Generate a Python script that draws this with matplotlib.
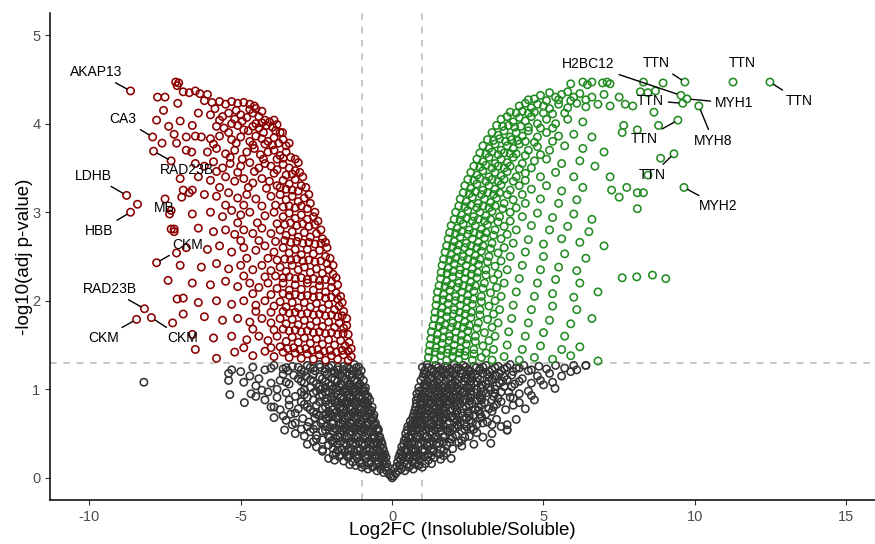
import numpy as np
import matplotlib.pyplot as plt

plt.rcParams['font.family'] = ['Liberation Sans', 'DejaVu Sans']
plt.rcParams['axes.unicode_minus'] = False

# (log2FC, -log10 adj p)
# significant, lower in insoluble fraction
down_pts = [
    (-7.15, 4.47), (-7.1, 4.43), (-7.05, 4.46),
    (-6.9, 4.36), (-6.7, 4.35), (-6.5, 4.37), (-6.35, 4.34), (-6.1, 4.33), (-7.5, 4.30),
    (-6.2, 4.26), (-5.95, 4.24), (-5.7, 4.25), (-5.5, 4.22), (-5.3, 4.25), (-5.1, 4.23),
    (-4.9, 4.24), (-4.7, 4.22), (-4.55, 4.2), (-7.55, 4.15),
    (-5.85, 4.17), (-5.15, 4.15), (-4.7, 4.16), (-4.3, 4.14), (-4.5, 4.17),
    (-6.4, 4.12), (-6.0, 4.1), (-5.6, 4.08), (-5.4, 4.12), (-5.2, 4.05), (-5.0, 4.1),
    (-4.8, 4.07), (-4.6, 4.12), (-4.4, 4.08), (-4.2, 4.04), (-4.05, 4.02), (-5.3, 4.0),
    (-5.7, 4.04), (-4.95, 4.03), (-4.5, 4.0), (-4.3, 4.01), (-3.9, 4.04),
    (-6.6, 3.98), (-5.8, 3.97), (-5.55, 3.95), (-5.1, 3.98), (-4.9, 3.93), (-4.6, 3.97),
    (-4.4, 3.95), (-4.15, 3.98), (-3.95, 3.96), (-3.8, 3.99), (-3.7, 3.9), (-7.0, 4.03),
    (-7.2, 3.88),
    (-5.4, 3.9), (-4.75, 3.92), (-4.25, 3.9), (-3.85, 3.92), (-3.62, 3.9),
    (-6.3, 3.85), (-6.0, 3.83), (-5.7, 3.86), (-5.3, 3.82), (-5.0, 3.85), (-4.7, 3.8),
    (-4.5, 3.86), (-4.3, 3.83), (-4.1, 3.8), (-3.9, 3.84), (-3.75, 3.78), (-3.6, 3.82),
    (-3.5, 3.75), (-7.6, 3.78),
    (-5.9, 3.77), (-5.15, 3.78), (-4.6, 3.76), (-4.2, 3.77), (-3.95, 3.76), (-3.4, 3.78),
    (-6.8, 3.7), (-6.1, 3.68), (-5.8, 3.72), (-5.5, 3.66), (-5.2, 3.7), (-4.8, 3.68),
    (-4.55, 3.72), (-4.35, 3.65), (-4.1, 3.68), (-3.9, 3.7), (-3.7, 3.64), (-3.5, 3.68),
    (-3.35, 3.62), (-3.2, 3.6),
    (-5.35, 3.62), (-4.95, 3.6), (-4.25, 3.6), (-3.8, 3.6), (-3.6, 3.61), (-3.1, 3.56),
    (-7.3, 3.58), (-6.5, 3.55), (-6.2, 3.52), (-5.9, 3.57), (-5.6, 3.5), (-5.35, 3.55),
    (-5.0, 3.52), (-4.7, 3.56), (-4.4, 3.5), (-4.2, 3.55), (-4.0, 3.52), (-3.8, 3.48),
    (-3.6, 3.54), (-3.4, 3.5), (-3.2, 3.47), (-3.05, 3.45),
    (-5.8, 3.46), (-5.1, 3.45), (-4.55, 3.46), (-3.9, 3.44), (-3.5, 3.42), (-3.3, 3.43),
    (-2.95, 3.4),
    (-7.0, 3.38), (-6.4, 3.4), (-6.0, 3.36), (-5.5, 3.4), (-5.2, 3.35), (-4.9, 3.38),
    (-4.6, 3.33), (-4.3, 3.38), (-4.05, 3.35), (-3.8, 3.3), (-3.6, 3.36), (-3.4, 3.32),
    (-3.2, 3.37), (-3.0, 3.3), (-2.85, 3.28),
    (-5.7, 3.28), (-4.75, 3.28), (-4.15, 3.27), (-3.7, 3.28), (-3.5, 3.26), (-3.3, 3.25),
    (-3.1, 3.24), (-2.75, 3.2),
    (-6.7, 3.22), (-6.2, 3.2), (-5.8, 3.18), (-5.4, 3.22), (-5.1, 3.16), (-4.8, 3.2),
    (-4.5, 3.15), (-4.0, 3.18), (-3.7, 3.2), (-3.5, 3.14), (-3.3, 3.18), (-3.1, 3.12),
    (-2.9, 3.16), (-2.7, 3.1), (-7.5, 3.15),
    (-5.5, 3.08), (-4.9, 3.08), (-4.3, 3.07), (-3.85, 3.08), (-3.6, 3.06), (-3.4, 3.07),
    (-3.2, 3.05), (-3.0, 3.07), (-2.8, 3.04), (-2.55, 3.0),
    (-7.3, 3.02), (-6.6, 2.98), (-6.0, 3.0), (-5.6, 2.95), (-5.3, 3.02), (-5.0, 2.97),
    (-4.7, 3.0), (-4.2, 2.96), (-3.9, 3.0), (-3.6, 2.95), (-3.4, 2.99), (-3.2, 2.93),
    (-3.0, 2.97), (-2.8, 2.92), (-2.6, 2.95), (-2.45, 2.9),
    (-5.1, 2.88), (-4.45, 2.88), (-3.8, 2.87), (-3.55, 2.86), (-3.35, 2.88), (-3.15, 2.85),
    (-2.95, 2.87), (-2.75, 2.84), (-2.55, 2.86), (-2.35, 2.8),
    (-7.2, 2.78), (-6.4, 2.82), (-5.9, 2.78), (-5.5, 2.8), (-5.2, 2.75), (-4.9, 2.8),
    (-4.6, 2.76), (-4.3, 2.82), (-4.0, 2.76), (-3.7, 2.8), (-3.5, 2.74), (-3.3, 2.78),
    (-3.1, 2.72), (-2.9, 2.77), (-2.7, 2.72), (-2.5, 2.76), (-2.3, 2.7), (-2.2, 2.66),
    (-5.0, 2.68), (-4.4, 2.68), (-3.85, 2.67), (-3.55, 2.68), (-3.35, 2.66), (-3.15, 2.67),
    (-2.95, 2.65), (-2.75, 2.66), (-2.55, 2.64), (-2.35, 2.65), (-2.15, 2.6),
    (-6.8, 2.6), (-6.1, 2.58), (-5.7, 2.62), (-5.3, 2.55), (-4.9, 2.6), (-4.5, 2.57),
    (-4.2, 2.62), (-3.9, 2.55), (-3.6, 2.6), (-3.4, 2.54), (-3.2, 2.58), (-3.0, 2.52),
    (-2.8, 2.58), (-2.6, 2.53), (-2.4, 2.57), (-2.2, 2.5), (-2.05, 2.48),
    (-4.8, 2.48), (-4.1, 2.48), (-3.8, 2.46), (-3.55, 2.47), (-3.35, 2.46), (-3.15, 2.47),
    (-2.95, 2.45), (-2.75, 2.46), (-2.55, 2.44), (-2.35, 2.45), (-2.15, 2.42), (-1.95, 2.4),
    (-7.0, 2.4), (-6.3, 2.38), (-5.8, 2.42), (-5.4, 2.36), (-5.0, 2.4), (-4.6, 2.35),
    (-4.3, 2.4), (-4.0, 2.34), (-3.7, 2.38), (-3.5, 2.33), (-3.3, 2.4), (-3.1, 2.35),
    (-2.9, 2.38), (-2.7, 2.32), (-2.5, 2.36), (-2.3, 2.31), (-2.1, 2.35), (-1.95, 2.3),
    (-1.85, 2.26),
    (-4.9, 2.28), (-4.2, 2.27), (-3.85, 2.28), (-3.6, 2.26), (-3.4, 2.27), (-3.2, 2.25),
    (-3.0, 2.26), (-2.8, 2.24), (-2.6, 2.25), (-2.4, 2.23), (-2.2, 2.24), (-2.0, 2.22),
    (-1.8, 2.18),
    (-6.6, 2.2), (-6.0, 2.18), (-5.5, 2.22), (-5.1, 2.16), (-4.7, 2.2), (-4.4, 2.15),
    (-4.1, 2.2), (-3.8, 2.14), (-3.6, 2.2), (-3.4, 2.12), (-3.2, 2.18), (-3.0, 2.13),
    (-2.8, 2.2), (-2.6, 2.12), (-2.4, 2.17), (-2.2, 2.1), (-2.0, 2.15), (-1.85, 2.09),
    (-1.7, 2.05),
    (-4.6, 2.08), (-4.0, 2.07), (-3.6, 2.08), (-3.4, 2.06), (-3.2, 2.07), (-3.0, 2.05),
    (-2.8, 2.06), (-2.6, 2.04), (-2.4, 2.05), (-2.2, 2.03), (-2.0, 2.04), (-1.8, 2.02),
    (-1.65, 1.98),
    (-7.1, 2.02), (-6.4, 1.98), (-5.8, 2.0), (-5.3, 1.96), (-4.9, 2.0), (-4.5, 1.95),
    (-4.2, 2.0), (-3.9, 1.94), (-3.7, 1.99), (-3.5, 1.93), (-3.3, 1.98), (-3.1, 1.92),
    (-2.9, 1.98), (-2.7, 1.93), (-2.5, 1.97), (-2.3, 1.91), (-2.1, 1.96), (-1.9, 1.9),
    (-1.75, 1.94), (-1.6, 1.88),
    (-4.5, 1.88), (-4.0, 1.87), (-3.6, 1.88), (-3.4, 1.86), (-3.2, 1.87), (-3.0, 1.85),
    (-2.8, 1.86), (-2.6, 1.84), (-2.4, 1.85), (-2.2, 1.83), (-2.0, 1.84), (-1.8, 1.82),
    (-1.65, 1.83), (-1.5, 1.8),
    (-6.2, 1.82), (-5.6, 1.78), (-5.1, 1.8), (-4.7, 1.76), (-4.3, 1.8), (-4.0, 1.75),
    (-3.7, 1.8), (-3.5, 1.74), (-3.3, 1.79), (-3.1, 1.73), (-2.9, 1.78), (-2.7, 1.72),
    (-2.5, 1.77), (-2.3, 1.71), (-2.1, 1.76), (-1.9, 1.7), (-1.75, 1.75), (-1.6, 1.69),
    (-1.5, 1.72),
    (-4.6, 1.68), (-3.9, 1.67), (-3.6, 1.68), (-3.4, 1.66), (-3.2, 1.67), (-3.0, 1.65),
    (-2.8, 1.66), (-2.6, 1.64), (-2.4, 1.65), (-2.2, 1.63), (-2.0, 1.64), (-1.8, 1.62),
    (-1.62, 1.63), (-1.45, 1.62),
    (-6.6, 1.62), (-5.9, 1.58), (-5.3, 1.6), (-4.8, 1.56), (-4.4, 1.6), (-4.1, 1.55),
    (-3.8, 1.6), (-3.5, 1.54), (-3.3, 1.59), (-3.1, 1.53), (-2.9, 1.58), (-2.7, 1.52),
    (-2.5, 1.57), (-2.3, 1.51), (-2.1, 1.56), (-1.9, 1.5), (-1.7, 1.55), (-1.55, 1.49),
    (-1.42, 1.53),
    (-4.9, 1.47), (-4.0, 1.47), (-3.7, 1.48), (-3.45, 1.46), (-3.25, 1.47), (-3.05, 1.45),
    (-2.85, 1.46), (-2.65, 1.44), (-2.45, 1.45), (-2.25, 1.43), (-2.05, 1.44),
    (-1.85, 1.42), (-1.65, 1.44), (-1.45, 1.43), (-1.35, 1.46),
    (-5.8, 1.35), (-5.2, 1.42), (-4.6, 1.38), (-4.2, 1.43), (-3.9, 1.37), (-3.6, 1.42),
    (-3.4, 1.36), (-3.2, 1.41), (-3.0, 1.35), (-2.8, 1.4), (-2.6, 1.34), (-2.4, 1.39),
    (-2.2, 1.33), (-2.0, 1.38), (-1.8, 1.34), (-1.6, 1.39), (-1.45, 1.33), (-1.35, 1.37),
    (-7.75, 4.3), (-7.08, 4.23), (-7.78, 4.04), (-7.38, 3.97), (-7.12, 3.78),
    (-6.8, 3.85), (-6.5, 3.86), (-6.62, 3.68), (-7.3, 2.81), (-7.2, 2.81),
    (-7.12, 2.54), (-7.4, 2.23), (-6.9, 2.03), (-6.95, 3.17), (-6.9, 3.25),
    (-6.6, 3.25), (-7.25, 1.75), (-6.5, 1.45), (-8.41, 3.09), (-6.9, 1.85),
]

# significant, higher in insoluble fraction
up_pts = [
    (5.9, 4.45), (6.3, 4.47), (6.45, 4.44), (6.6, 4.47), (6.95, 4.46), (7.1, 4.47),
    (7.2, 4.45), (8.3, 4.47), (8.95, 4.46),
    (4.9, 4.32), (5.2, 4.35), (5.4, 4.3), (5.6, 4.33), (5.8, 4.36), (6.0, 4.3),
    (6.2, 4.34), (6.6, 4.3), (7.0, 4.33), (7.5, 4.3), (8.2, 4.36), (8.45, 4.35),
    (8.7, 4.37),
    (4.5, 4.27), (4.7, 4.28), (5.1, 4.26), (5.5, 4.27), (5.9, 4.26), (6.4, 4.27),
    (4.2, 4.2), (4.4, 4.23), (4.6, 4.18), (4.8, 4.22), (5.0, 4.2), (5.2, 4.17),
    (5.5, 4.22), (5.8, 4.18), (6.1, 4.23), (6.4, 4.19), (6.8, 4.22), (7.2, 4.2),
    (7.7, 4.22), (7.95, 4.2), (8.65, 4.13),
    (3.9, 4.13), (4.1, 4.12), (4.3, 4.14), (4.5, 4.12), (4.7, 4.13), (5.0, 4.12),
    (5.3, 4.11), (5.7, 4.12),
    (3.6, 4.05), (3.8, 4.08), (4.0, 4.02), (4.2, 4.07), (4.4, 4.03), (4.6, 4.08),
    (4.8, 4.0), (5.1, 4.05), (5.4, 4.0), (5.8, 4.05), (6.3, 4.02), (7.65, 3.98),
    (8.1, 3.93), (8.8, 3.98), (7.6, 3.9),
    (3.45, 3.98), (3.65, 3.97), (3.85, 3.98), (4.05, 3.96), (4.25, 3.97), (4.5, 3.96),
    (4.9, 3.95), (5.3, 3.95),
    (3.3, 3.9), (3.5, 3.87), (3.7, 3.92), (3.9, 3.85), (4.1, 3.9), (4.3, 3.86),
    (4.5, 3.92), (4.8, 3.85), (5.1, 3.9), (5.5, 3.86), (6.0, 3.88), (6.6, 3.85),
    (3.15, 3.82), (3.35, 3.81), (3.55, 3.83), (3.75, 3.8), (3.95, 3.82), (4.15, 3.81),
    (4.4, 3.8), (4.7, 3.79), (5.3, 3.8),
    (3.0, 3.75), (3.2, 3.72), (3.4, 3.77), (3.6, 3.7), (3.8, 3.75), (4.0, 3.72),
    (4.2, 3.77), (4.5, 3.7), (4.8, 3.74), (5.2, 3.7), (5.7, 3.75), (6.3, 3.72),
    (7.0, 3.68), (8.87, 3.61),
    (2.9, 3.67), (3.1, 3.66), (3.3, 3.68), (3.5, 3.65), (3.7, 3.67), (3.9, 3.66),
    (4.1, 3.66), (4.4, 3.64), (4.9, 3.65),
    (2.8, 3.6), (3.0, 3.57), (3.2, 3.62), (3.4, 3.55), (3.6, 3.6), (3.8, 3.56),
    (4.0, 3.62), (4.3, 3.55), (4.7, 3.58), (5.1, 3.6), (5.6, 3.55), (6.2, 3.58),
    (6.7, 3.52),
    (2.7, 3.52), (2.9, 3.51), (3.1, 3.53), (3.3, 3.5), (3.5, 3.52), (3.7, 3.5),
    (3.9, 3.52), (4.2, 3.49), (4.6, 3.5),
    (2.6, 3.45), (2.8, 3.42), (3.0, 3.47), (3.2, 3.4), (3.4, 3.45), (3.6, 3.41),
    (3.8, 3.46), (4.1, 3.4), (4.4, 3.44), (4.9, 3.4), (5.4, 3.45), (6.0, 3.4),
    (7.2, 3.4), (8.45, 3.42),
    (2.5, 3.37), (2.7, 3.36), (2.9, 3.38), (3.1, 3.35), (3.3, 3.37), (3.5, 3.35),
    (3.7, 3.37), (4.0, 3.35), (4.4, 3.36),
    (2.4, 3.3), (2.6, 3.27), (2.8, 3.32), (3.0, 3.25), (3.2, 3.3), (3.4, 3.26),
    (3.6, 3.31), (3.9, 3.25), (4.2, 3.3), (4.6, 3.26), (5.1, 3.3), (5.6, 3.24),
    (6.3, 3.28), (7.25, 3.25), (7.75, 3.28),
    (2.35, 3.22), (2.55, 3.21), (2.75, 3.23), (2.95, 3.2), (3.15, 3.22), (3.35, 3.2),
    (3.55, 3.22), (3.8, 3.2), (4.3, 3.2),
    (2.25, 3.15), (2.45, 3.12), (2.65, 3.17), (2.85, 3.1), (3.05, 3.15), (3.25, 3.11),
    (3.45, 3.16), (3.7, 3.1), (4.0, 3.14), (4.4, 3.1), (4.9, 3.15), (5.5, 3.1),
    (6.1, 3.14), (7.5, 3.17), (8.1, 3.22), (8.3, 3.22),
    (2.2, 3.07), (2.4, 3.06), (2.6, 3.08), (2.8, 3.05), (3.0, 3.07), (3.2, 3.05),
    (3.4, 3.07), (3.65, 3.04), (4.1, 3.05),
    (2.1, 3.0), (2.3, 2.97), (2.5, 3.02), (2.7, 2.95), (2.9, 3.0), (3.1, 2.96),
    (3.3, 3.01), (3.55, 2.95), (3.9, 3.0), (4.3, 2.95), (4.8, 2.99), (5.3, 2.94),
    (6.0, 2.98), (6.6, 2.92), (8.1, 3.04),
    (2.05, 2.92), (2.25, 2.91), (2.45, 2.93), (2.65, 2.9), (2.85, 2.92), (3.05, 2.9),
    (3.25, 2.92), (3.5, 2.89), (3.9, 2.9),
    (1.95, 2.85), (2.15, 2.82), (2.35, 2.87), (2.55, 2.8), (2.75, 2.85), (2.95, 2.81),
    (3.15, 2.86), (3.4, 2.8), (3.7, 2.84), (4.1, 2.8), (4.6, 2.85), (5.2, 2.8),
    (5.8, 2.84), (6.5, 2.78),
    (1.9, 2.77), (2.1, 2.76), (2.3, 2.78), (2.5, 2.75), (2.7, 2.77), (2.9, 2.75),
    (3.1, 2.77), (3.35, 2.74), (3.8, 2.75),
    (1.85, 2.7), (2.05, 2.67), (2.25, 2.72), (2.45, 2.65), (2.65, 2.7), (2.85, 2.66),
    (3.05, 2.71), (3.3, 2.65), (3.6, 2.7), (4.0, 2.65), (4.5, 2.69), (5.0, 2.64),
    (5.6, 2.7), (6.2, 2.66), (7.0, 2.62),
    (1.8, 2.62), (2.0, 2.61), (2.2, 2.63), (2.4, 2.6), (2.6, 2.62), (2.8, 2.6),
    (3.0, 2.62), (3.25, 2.59), (3.7, 2.6),
    (1.75, 2.55), (1.95, 2.52), (2.15, 2.57), (2.35, 2.5), (2.55, 2.55), (2.75, 2.51),
    (2.95, 2.56), (3.2, 2.5), (3.5, 2.54), (3.9, 2.5), (4.4, 2.55), (5.0, 2.5),
    (5.7, 2.53), (6.4, 2.48),
    (1.7, 2.47), (1.9, 2.46), (2.1, 2.48), (2.3, 2.45), (2.5, 2.47), (2.7, 2.45),
    (2.9, 2.47), (3.15, 2.44), (3.6, 2.45),
    (1.65, 2.4), (1.85, 2.37), (2.05, 2.42), (2.25, 2.35), (2.45, 2.4), (2.65, 2.36),
    (2.85, 2.41), (3.1, 2.35), (3.4, 2.39), (3.8, 2.35), (4.3, 2.4), (4.9, 2.35),
    (5.5, 2.38), (6.1, 2.34),
    (1.62, 2.32), (1.82, 2.31), (2.02, 2.33), (2.22, 2.3), (2.42, 2.32), (2.62, 2.3),
    (2.82, 2.32), (3.1, 2.29), (3.5, 2.3),
    (1.6, 2.25), (1.8, 2.22), (2.0, 2.27), (2.2, 2.2), (2.4, 2.25), (2.6, 2.21),
    (2.8, 2.26), (3.05, 2.2), (3.35, 2.24), (3.7, 2.2), (4.2, 2.25), (4.8, 2.2),
    (5.4, 2.24), (6.2, 2.2), (8.08, 2.27), (8.6, 2.29), (9.04, 2.25), (7.6, 2.26),
    (1.55, 2.17), (1.75, 2.16), (1.95, 2.18), (2.15, 2.15), (2.35, 2.17), (2.55, 2.15),
    (2.75, 2.17), (3.0, 2.14), (3.45, 2.15),
    (1.5, 2.1), (1.7, 2.07), (1.9, 2.12), (2.1, 2.05), (2.3, 2.1), (2.5, 2.06),
    (2.7, 2.11), (2.95, 2.05), (3.25, 2.09), (3.6, 2.05), (4.1, 2.1), (4.7, 2.05),
    (5.3, 2.08), (6.0, 2.04), (6.8, 2.1),
    (1.48, 2.02), (1.68, 2.01), (1.88, 2.03), (2.08, 2.0), (2.28, 2.02), (2.48, 2.0),
    (2.68, 2.02), (2.95, 1.99), (3.4, 2.0),
    (1.45, 1.95), (1.65, 1.92), (1.85, 1.97), (2.05, 1.9), (2.25, 1.95), (2.45, 1.91),
    (2.65, 1.96), (2.9, 1.9), (3.2, 1.94), (3.55, 1.9), (4.0, 1.95), (4.6, 1.9),
    (5.3, 1.94), (6.1, 1.9),
    (1.42, 1.87), (1.62, 1.86), (1.82, 1.88), (2.02, 1.85), (2.22, 1.87), (2.42, 1.85),
    (2.62, 1.87), (2.9, 1.84), (3.35, 1.85),
    (1.4, 1.8), (1.6, 1.77), (1.8, 1.82), (2.0, 1.75), (2.2, 1.8), (2.4, 1.76),
    (2.6, 1.81), (2.85, 1.75), (3.15, 1.79), (3.5, 1.75), (3.95, 1.8), (4.5, 1.75),
    (5.2, 1.78), (5.9, 1.74), (6.6, 1.8),
    (1.35, 1.72), (1.55, 1.71), (1.75, 1.73), (1.95, 1.7), (2.15, 1.72), (2.35, 1.7),
    (2.55, 1.72), (2.8, 1.69), (3.3, 1.7),
    (1.3, 1.65), (1.5, 1.62), (1.7, 1.67), (1.9, 1.6), (2.1, 1.65), (2.3, 1.61),
    (2.5, 1.66), (2.75, 1.6), (3.05, 1.64), (3.4, 1.6), (3.85, 1.65), (4.4, 1.6),
    (5.0, 1.64), (5.7, 1.6),
    (1.28, 1.57), (1.48, 1.56), (1.68, 1.58), (1.88, 1.55), (2.08, 1.57), (2.28, 1.55),
    (2.48, 1.57), (2.75, 1.54), (3.2, 1.55),
    (1.25, 1.5), (1.45, 1.47), (1.65, 1.52), (1.85, 1.45), (2.05, 1.5), (2.25, 1.46),
    (2.45, 1.51), (2.7, 1.45), (3.0, 1.49), (3.35, 1.45), (3.8, 1.5), (4.3, 1.45),
    (4.9, 1.49), (5.6, 1.45), (6.2, 1.48),
    (1.22, 1.43), (1.42, 1.42), (1.62, 1.44), (1.82, 1.41), (2.02, 1.43), (2.22, 1.41),
    (2.42, 1.43), (2.7, 1.4), (3.1, 1.41),
    (1.2, 1.36), (1.4, 1.34), (1.6, 1.38), (1.8, 1.33), (2.0, 1.37), (2.2, 1.34),
    (2.4, 1.38), (2.65, 1.33), (2.95, 1.36), (3.3, 1.33), (3.7, 1.37), (4.2, 1.33),
    (4.7, 1.36), (5.3, 1.34), (5.9, 1.38), (6.8, 1.32),
]

# not significant
ns_pts = [
    (-5.3, 1.22), (-4.6, 1.25), (-4.2, 1.22), (-3.9, 1.27), (-3.6, 1.23), (-3.3, 1.26),
    (-3.0, 1.22), (-2.8, 1.27), (-2.6, 1.24), (-2.4, 1.28), (-2.2, 1.23), (-2.0, 1.27),
    (-1.8, 1.22), (-1.6, 1.26), (-1.4, 1.23), (-1.25, 1.28), (-1.1, 1.25),
    (1.0, 1.25), (1.15, 1.28), (1.3, 1.23), (1.45, 1.27), (1.6, 1.22), (1.75, 1.26),
    (1.9, 1.23), (2.05, 1.28), (2.2, 1.24), (2.35, 1.27), (2.5, 1.22), (2.7, 1.26),
    (2.9, 1.23), (3.1, 1.27), (3.3, 1.22), (3.5, 1.26), (3.7, 1.23), (3.9, 1.28),
    (4.1, 1.24), (4.35, 1.27), (4.6, 1.22), (4.85, 1.26), (5.1, 1.23), (5.4, 1.27),
    (5.7, 1.24), (6.0, 1.27), (6.4, 1.27),
    (-1.02, 1.21), (-1.32, 1.21), (-1.62, 1.22), (-1.92, 1.21), (-2.22, 1.2),
    (-2.55, 1.21), (-2.9, 1.2), (-3.45, 1.21),
    (1.08, 1.21), (1.38, 1.21), (1.68, 1.22), (1.98, 1.21), (2.28, 1.22), (2.58, 1.21),
    (2.88, 1.21), (3.2, 1.2), (3.6, 1.21), (4.0, 1.2), (4.5, 1.21),
    (-1.9, 1.18), (-1.7, 1.16), (-1.5, 1.19), (-1.3, 1.17), (-1.15, 1.19),
    (1.05, 1.18), (1.2, 1.16), (1.35, 1.19), (1.5, 1.16), (1.65, 1.19), (1.8, 1.17),
    (1.95, 1.19), (2.1, 1.16), (2.3, 1.18), (2.6, 1.17), (3.0, 1.18), (3.4, 1.16),
    (-1.05, 1.14), (-1.35, 1.13), (-1.65, 1.14), (-2.0, 1.13), (-2.4, 1.14),
    (-2.85, 1.15), (-3.25, 1.16),
    (1.02, 1.14), (1.32, 1.13), (1.62, 1.14), (1.92, 1.13), (2.22, 1.14), (2.42, 1.13),
    (2.62, 1.14), (2.82, 1.13), (3.2, 1.14), (3.45, 1.15), (3.7, 1.14),
    (-5.4, 1.1), (-4.9, 1.08), (-4.4, 1.12), (-4.0, 1.07), (-3.7, 1.1), (-3.4, 1.06),
    (-3.1, 1.12), (-2.9, 1.07), (-2.7, 1.11), (-2.5, 1.06), (-2.3, 1.12), (-2.1, 1.07),
    (-1.9, 1.11), (-1.7, 1.06), (-1.55, 1.12), (-1.4, 1.07), (-1.25, 1.1), (-1.1, 1.05),
    (-0.95, 1.1),
    (0.95, 1.1), (1.1, 1.06), (1.25, 1.12), (1.4, 1.07), (1.55, 1.11), (1.7, 1.06),
    (1.85, 1.12), (2.0, 1.07), (2.15, 1.11), (2.3, 1.06), (2.5, 1.12), (2.7, 1.07),
    (2.9, 1.11), (3.1, 1.06), (3.3, 1.12), (3.55, 1.07), (3.8, 1.11), (4.05, 1.06),
    (4.3, 1.12), (4.6, 1.07), (4.9, 1.1), (5.3, 1.08),
    (-1.05, 1.05), (-1.38, 1.05), (-1.68, 1.05), (-2.05, 1.04), (-2.4, 1.03), (-2.7, 1.02),
    (1.05, 1.05), (1.35, 1.05), (1.62, 1.04), (1.95, 1.05), (2.38, 1.05), (2.6, 1.04),
    (2.95, 1.05), (3.45, 1.04), (3.95, 1.03),
    (-2.2, 1.02), (-1.95, 1.0), (-1.75, 1.03), (-1.6, 0.99), (-1.45, 1.03), (-1.3, 1.0),
    (-1.15, 1.03), (-1.0, 0.99), (-0.88, 1.02),
    (0.88, 1.02), (1.0, 0.99), (1.15, 1.03), (1.3, 1.0), (1.45, 1.03), (1.6, 0.99),
    (1.75, 1.03), (1.9, 1.0), (2.05, 1.03), (2.25, 0.99), (2.45, 1.02), (2.8, 1.0),
    (3.2, 1.02), (3.7, 1.03),
    (-0.9, 0.98), (-1.18, 0.98), (-1.48, 0.98), (-1.78, 0.99), (-2.1, 0.97), (-2.5, 0.98),
    (0.9, 0.98), (1.22, 0.97), (1.52, 0.98), (1.82, 0.97), (2.12, 0.98), (2.38, 0.97),
    (2.6, 0.98), (3.0, 0.97), (3.25, 0.99),
    (-5.36, 0.94), (-4.5, 0.92), (-4.1, 0.97), (-3.8, 0.91), (-3.5, 0.96), (-3.2, 0.92),
    (-3.0, 0.97), (-2.8, 0.91), (-2.6, 0.96), (-2.4, 0.92), (-2.2, 0.97), (-2.0, 0.91),
    (-1.85, 0.96), (-1.7, 0.92), (-1.55, 0.97), (-1.4, 0.91), (-1.25, 0.96),
    (-1.1, 0.92), (-0.95, 0.97), (-0.8, 0.92),
    (0.82, 0.95), (0.95, 0.91), (1.1, 0.96), (1.25, 0.92), (1.4, 0.97), (1.55, 0.91),
    (1.7, 0.96), (1.85, 0.92), (2.0, 0.97), (2.15, 0.91), (2.3, 0.96), (2.5, 0.92),
    (2.7, 0.97), (2.9, 0.91), (3.1, 0.96), (3.35, 0.92), (3.6, 0.97), (3.9, 0.91),
    (4.2, 0.95), (4.6, 0.93), (5.38, 1.01),
    (-0.82, 0.9), (-1.08, 0.9), (-1.38, 0.9), (-1.7, 0.9), (-2.15, 0.9), (-2.6, 0.88),
    (-3.4, 0.88),
    (0.85, 0.91), (1.12, 0.9), (1.42, 0.91), (1.72, 0.9), (2.02, 0.91), (2.25, 0.9),
    (2.6, 0.9), (2.95, 0.9), (3.5, 0.9), (4.0, 0.9),
    (-2.0, 0.88), (-1.8, 0.86), (-1.6, 0.89), (-1.45, 0.86), (-1.3, 0.89), (-1.15, 0.86),
    (-1.0, 0.89), (-0.85, 0.86), (-0.74, 0.88),
    (0.8, 0.88), (0.92, 0.86), (1.05, 0.89), (1.2, 0.86), (1.35, 0.89), (1.5, 0.86),
    (1.65, 0.89), (1.8, 0.86), (1.95, 0.89), (2.1, 0.86), (2.4, 0.88), (2.8, 0.87),
    (3.3, 0.88),
    (-0.8, 0.84), (-0.98, 0.84), (-1.28, 0.85), (-1.58, 0.84), (-1.88, 0.85), (-2.2, 0.86),
    (0.8, 0.84), (1.02, 0.84), (1.32, 0.85), (1.62, 0.84), (1.92, 0.85), (2.25, 0.84),
    (2.65, 0.84), (3.05, 0.85),
    (-4.88, 0.85), (-4.0, 0.8), (-3.7, 0.77), (-3.4, 0.82), (-3.1, 0.78), (-2.9, 0.83),
    (-2.7, 0.77), (-2.5, 0.82), (-2.3, 0.78), (-2.1, 0.83), (-1.95, 0.77), (-1.8, 0.82),
    (-1.65, 0.78), (-1.5, 0.83), (-1.35, 0.77), (-1.2, 0.82), (-1.05, 0.78),
    (-0.9, 0.83), (-0.75, 0.77), (-0.66, 0.8),
    (0.78, 0.8), (0.88, 0.77), (0.98, 0.82), (1.1, 0.78), (1.25, 0.83), (1.4, 0.77),
    (1.55, 0.82), (1.7, 0.78), (1.85, 0.83), (2.0, 0.77), (2.15, 0.82), (2.35, 0.78),
    (2.55, 0.83), (2.75, 0.77), (2.95, 0.82), (3.2, 0.78), (3.45, 0.83), (3.75, 0.77),
    (4.0, 0.82), (4.2, 0.85),
    (-0.68, 0.76), (-0.92, 0.76), (-1.22, 0.76), (-1.52, 0.76), (-1.82, 0.75),
    (-2.1, 0.75), (-2.6, 0.74), (-3.2, 0.73),
    (0.75, 0.76), (1.0, 0.76), (1.22, 0.76), (1.52, 0.76), (1.72, 0.75), (1.92, 0.76),
    (2.15, 0.76), (2.5, 0.75), (2.85, 0.76), (3.3, 0.75),
    (-2.2, 0.72), (-1.9, 0.73), (-1.75, 0.7), (-1.6, 0.73), (-1.45, 0.7), (-1.3, 0.73),
    (-1.15, 0.7), (-1.0, 0.73), (-0.85, 0.7), (-0.72, 0.73), (-0.6, 0.71),
    (0.72, 0.72), (0.82, 0.7), (0.92, 0.73), (1.05, 0.7), (1.15, 0.73), (1.3, 0.7),
    (1.45, 0.73), (1.6, 0.7), (1.8, 0.73), (2.0, 0.7), (2.3, 0.73), (2.7, 0.71),
    (3.1, 0.72),
    (-0.62, 0.68), (-0.88, 0.69), (-1.18, 0.68), (-1.48, 0.69), (-1.78, 0.68),
    (-2.1, 0.69), (-2.4, 0.7),
    (0.68, 0.68), (0.92, 0.69), (1.08, 0.68), (1.38, 0.69), (1.68, 0.68), (1.95, 0.69),
    (2.2, 0.69), (2.55, 0.7), (2.95, 0.69),
    (-3.9, 0.68), (-3.5, 0.65), (-3.2, 0.62), (-2.95, 0.67), (-2.75, 0.63), (-2.55, 0.68),
    (-2.35, 0.62), (-2.15, 0.67), (-2.0, 0.63), (-1.85, 0.68), (-1.7, 0.62),
    (-1.55, 0.67), (-1.4, 0.63), (-1.25, 0.68), (-1.1, 0.62), (-0.95, 0.67),
    (-0.8, 0.63), (-0.65, 0.66), (-0.55, 0.62),
    (0.6, 0.64), (0.7, 0.62), (0.85, 0.67), (1.0, 0.63), (1.15, 0.68), (1.3, 0.62),
    (1.45, 0.67), (1.6, 0.63), (1.75, 0.68), (1.9, 0.62), (2.05, 0.67), (2.25, 0.63),
    (2.45, 0.68), (2.65, 0.62), (2.9, 0.67), (3.15, 0.63), (3.45, 0.66), (3.8, 0.6),
    (-0.58, 0.6), (-0.78, 0.61), (-1.02, 0.6), (-1.32, 0.61), (-1.62, 0.6), (-1.95, 0.61),
    (-2.5, 0.59), (-2.8, 0.58),
    (0.62, 0.6), (0.78, 0.61), (0.95, 0.6), (1.25, 0.61), (1.55, 0.6), (1.82, 0.61),
    (2.15, 0.6), (2.4, 0.61), (2.8, 0.6), (3.3, 0.6),
    (-2.2, 0.58), (-1.9, 0.56), (-1.75, 0.59), (-1.6, 0.56), (-1.45, 0.59), (-1.3, 0.56),
    (-1.15, 0.59), (-1.0, 0.56), (-0.85, 0.59), (-0.7, 0.56), (-0.58, 0.59),
    (-0.48, 0.56),
    (0.52, 0.58), (0.62, 0.56), (0.75, 0.59), (0.9, 0.56), (1.05, 0.59), (1.2, 0.56),
    (1.35, 0.59), (1.5, 0.56), (1.7, 0.59), (1.9, 0.56), (2.2, 0.58), (2.6, 0.57),
    (-0.45, 0.54), (-0.65, 0.53), (-0.92, 0.54), (-1.22, 0.54), (-1.52, 0.54),
    (-1.82, 0.54), (-2.2, 0.54), (-2.6, 0.55),
    (0.5, 0.54), (0.65, 0.53), (0.82, 0.54), (1.12, 0.54), (1.42, 0.54), (1.8, 0.54),
    (2.0, 0.54), (2.4, 0.55), (2.7, 0.55),
    (-3.55, 0.54), (-3.2, 0.5), (-2.9, 0.47), (-2.7, 0.52), (-2.5, 0.48), (-2.3, 0.53),
    (-2.1, 0.47), (-1.95, 0.52), (-1.8, 0.48), (-1.65, 0.53), (-1.5, 0.47),
    (-1.35, 0.52), (-1.2, 0.48), (-1.05, 0.53), (-0.9, 0.47), (-0.75, 0.52),
    (-0.6, 0.48), (-0.5, 0.53), (-0.42, 0.47),
    (0.45, 0.5), (0.55, 0.47), (0.7, 0.52), (0.85, 0.48), (1.0, 0.53), (1.15, 0.47),
    (1.3, 0.52), (1.45, 0.48), (1.6, 0.53), (1.75, 0.47), (1.9, 0.52), (2.1, 0.48),
    (2.3, 0.53), (2.55, 0.47), (2.8, 0.51), (3.0, 0.46), (3.3, 0.5), (3.8, 0.54),
    (-0.4, 0.45), (-0.58, 0.46), (-0.82, 0.45), (-1.12, 0.46), (-1.42, 0.45),
    (-1.72, 0.46), (-2.05, 0.46), (-2.5, 0.44),
    (0.45, 0.45), (0.62, 0.46), (0.78, 0.45), (1.08, 0.46), (1.38, 0.45), (1.68, 0.46),
    (2.0, 0.46), (2.4, 0.46),
    (-2.3, 0.43), (-2.0, 0.42), (-1.85, 0.44), (-1.7, 0.41), (-1.55, 0.44), (-1.4, 0.41),
    (-1.25, 0.44), (-1.1, 0.41), (-0.95, 0.44), (-0.8, 0.41), (-0.66, 0.44),
    (-0.54, 0.41), (-0.44, 0.43), (-0.36, 0.41),
    (0.4, 0.42), (0.5, 0.41), (0.6, 0.44), (0.75, 0.41), (0.9, 0.44), (1.05, 0.41),
    (1.2, 0.44), (1.35, 0.41), (1.5, 0.44), (1.7, 0.41), (1.95, 0.44), (2.3, 0.42),
    (-0.33, 0.38), (-0.48, 0.39), (-0.7, 0.39), (-1.0, 0.39), (-1.3, 0.39), (-1.6, 0.39),
    (-1.95, 0.4), (-2.6, 0.41),
    (0.38, 0.38), (0.5, 0.39), (0.65, 0.39), (0.95, 0.39), (1.25, 0.39), (1.55, 0.39),
    (1.9, 0.4), (2.2, 0.4),
    (-2.8, 0.38), (-2.5, 0.35), (-2.3, 0.32), (-2.1, 0.37), (-1.95, 0.33), (-1.8, 0.38),
    (-1.65, 0.32), (-1.5, 0.37), (-1.35, 0.33), (-1.2, 0.38), (-1.05, 0.32),
    (-0.9, 0.37), (-0.75, 0.33), (-0.62, 0.38), (-0.5, 0.32), (-0.4, 0.36),
    (-0.3, 0.33),
    (0.32, 0.35), (0.42, 0.32), (0.55, 0.37), (0.7, 0.33), (0.85, 0.38), (1.0, 0.32),
    (1.15, 0.37), (1.3, 0.33), (1.45, 0.38), (1.6, 0.32), (1.8, 0.37), (2.0, 0.33),
    (2.3, 0.36), (2.7, 0.38), (3.26, 0.39),
    (-0.28, 0.3), (-0.42, 0.31), (-0.6, 0.31), (-0.85, 0.31), (-1.15, 0.31),
    (-1.45, 0.31), (-1.8, 0.31), (-2.3, 0.3),
    (0.3, 0.3), (0.48, 0.31), (0.63, 0.31), (0.78, 0.31), (1.08, 0.31), (1.38, 0.31),
    (1.7, 0.31),
    (-1.85, 0.28), (-1.7, 0.26), (-1.55, 0.29), (-1.4, 0.26), (-1.25, 0.29), (-1.1, 0.26),
    (-0.95, 0.29), (-0.8, 0.26), (-0.66, 0.29), (-0.54, 0.26), (-0.42, 0.28),
    (-0.32, 0.26), (-0.24, 0.27),
    (0.26, 0.27), (0.34, 0.26), (0.46, 0.29), (0.6, 0.26), (0.74, 0.29), (0.88, 0.26),
    (1.02, 0.29), (1.18, 0.26), (1.35, 0.29), (1.55, 0.27), (1.8, 0.28),
    (-0.2, 0.23), (-0.3, 0.24), (-0.5, 0.24), (-0.66, 0.23), (-0.9, 0.25), (-1.2, 0.25),
    (-1.5, 0.25), (-1.95, 0.26),
    (0.22, 0.23), (0.35, 0.24), (0.46, 0.24), (0.58, 0.23), (0.72, 0.25), (0.95, 0.25),
    (1.3, 0.25), (1.7, 0.25),
    (-2.1, 0.22), (-1.9, 0.2), (-1.75, 0.24), (-1.6, 0.19), (-1.45, 0.23), (-1.3, 0.18),
    (-1.15, 0.22), (-1.0, 0.17), (-0.85, 0.22), (-0.7, 0.18), (-0.58, 0.23),
    (-0.45, 0.18), (-0.35, 0.22), (-0.25, 0.2), (-0.18, 0.16),
    (0.18, 0.18), (0.28, 0.21), (0.4, 0.18), (0.52, 0.23), (0.65, 0.19), (0.78, 0.24),
    (0.9, 0.2), (1.05, 0.24), (1.2, 0.2), (1.4, 0.23), (1.6, 0.21), (1.95, 0.22),
    (-1.4, 0.15), (-1.2, 0.14), (-1.05, 0.16), (-0.9, 0.14), (-0.75, 0.16), (-0.62, 0.13),
    (-0.5, 0.15), (-0.4, 0.13), (-0.3, 0.15), (-0.22, 0.12), (-0.14, 0.12),
    (0.1, 0.11), (0.16, 0.13), (0.25, 0.14), (0.35, 0.13), (0.48, 0.15), (0.6, 0.14),
    (0.75, 0.16), (0.9, 0.15), (1.1, 0.16), (1.3, 0.16),
    (-1.0, 0.12), (-0.8, 0.1), (-0.65, 0.12), (-0.5, 0.08), (-0.38, 0.1), (-0.28, 0.06),
    (-0.18, 0.08), (-0.1, 0.04), (-0.04, 0.02), (0.0, 0.0), (0.05, 0.02), (0.12, 0.05),
    (0.2, 0.08), (0.3, 0.1), (0.42, 0.08), (0.55, 0.12), (0.7, 0.1), (0.85, 0.14),
    (1.0, 0.12),
    (-4.3, 0.99), (-4.7, 1.15), (-5.0, 1.2), (-4.2, 0.88), (-3.9, 0.8), (-3.6, 0.7),
    (-3.3, 0.6), (-3.8, 1.0), (-4.5, 1.04), (-3.0, 0.55), (-3.35, 0.72),
    (4.5, 0.98), (4.8, 1.15), (5.0, 1.05), (5.6, 1.15), (5.9, 1.2), (4.4, 0.78),
    (4.1, 0.66), (3.6, 0.58), (4.7, 0.88), (5.2, 1.18), (6.1, 1.22),
    (-8.2, 1.08), (-5.4, 1.18), (-4.66, 0.95), (6.4, 1.27), (3.8, 0.54),
    (1.18, 1.245), (1.52, 1.245), (1.82, 1.25), (2.12, 1.245), (2.42, 1.25),
    (2.78, 1.245), (3.0, 1.25), (3.4, 1.245), (3.8, 1.25), (4.2, 1.24),
    (1.12, 1.17), (1.42, 1.17), (1.72, 1.17), (2.02, 1.17), (2.45, 1.17), (2.75, 1.17),
    (3.15, 1.17), (3.55, 1.18), (3.95, 1.16),
    (1.18, 1.085), (1.48, 1.085), (1.78, 1.09), (2.08, 1.085), (2.38, 1.09), (2.6, 1.09),
    (2.8, 1.085), (3.2, 1.09), (3.65, 1.09), (4.2, 1.09),
    (1.08, 1.01), (1.38, 1.01), (1.68, 1.01), (1.98, 1.015), (2.15, 1.01), (2.55, 1.01),
    (2.95, 1.01), (3.4, 1.0),
    (1.0, 0.94), (1.3, 0.94), (1.6, 0.94), (1.9, 0.94), (2.22, 0.94), (2.6, 0.94),
    (2.95, 0.94), (3.4, 0.95), (3.85, 0.97),
    (0.95, 0.86), (1.27, 0.87), (1.57, 0.87), (1.87, 0.87), (2.2, 0.87), (2.55, 0.87),
    (2.95, 0.88), (3.6, 0.86),
    (0.9, 0.79), (1.17, 0.8), (1.47, 0.8), (1.77, 0.8), (2.07, 0.8), (2.45, 0.8),
    (2.85, 0.8), (3.35, 0.8),
    (0.82, 0.72), (1.1, 0.72), (1.38, 0.72), (1.7, 0.72), (2.1, 0.72), (2.5, 0.73),
    (2.9, 0.72),
    (0.75, 0.65), (1.07, 0.65), (1.37, 0.65), (1.67, 0.65), (2.15, 0.65), (2.55, 0.65),
    (3.0, 0.62),
    (0.7, 0.57), (1.0, 0.57), (1.3, 0.57), (1.6, 0.57), (2.05, 0.57), (2.45, 0.58),
    (-1.18, 1.245), (-1.48, 1.245), (-1.78, 1.25), (-2.08, 1.245), (-2.38, 1.25),
    (-2.7, 1.245), (-3.1, 1.25), (-3.5, 1.245), (-4.0, 1.24),
    (-1.1, 1.17), (-1.4, 1.17), (-1.8, 1.17), (-2.15, 1.17), (-2.6, 1.17), (-3.0, 1.17),
    (-3.6, 1.17),
    (-1.15, 1.085), (-1.48, 1.085), (-1.8, 1.09), (-2.2, 1.085), (-2.6, 1.09),
    (-3.0, 1.09), (-3.5, 1.08),
    (-0.95, 1.01), (-1.22, 1.01), (-1.52, 1.01), (-1.85, 1.015), (-2.35, 1.0), (-2.9, 1.0),
    (-0.88, 0.94), (-1.18, 0.94), (-1.48, 0.94), (-1.78, 0.94), (-2.3, 0.94), (-2.9, 0.94),
    (-0.9, 0.87), (-1.22, 0.87), (-1.52, 0.87), (-1.9, 0.87), (-2.4, 0.86), (-3.0, 0.86),
    (-0.82, 0.8), (-1.12, 0.8), (-1.42, 0.8), (-1.72, 0.8), (-2.2, 0.8), (-2.8, 0.8),
    (-0.78, 0.72), (-1.08, 0.72), (-1.38, 0.72), (-1.68, 0.72), (-2.05, 0.72),
    (-2.5, 0.72),
    (-0.7, 0.65), (-1.02, 0.65), (-1.32, 0.65), (-1.62, 0.65), (-2.3, 0.65),
    (-0.62, 0.57), (-0.92, 0.57), (-1.22, 0.57), (-1.52, 0.57), (-2.05, 0.57),
]

# labelled proteins: point and label position
gene_names = ['AKAP13', 'CA3', 'RAD23B', 'LDHB', 'HBB', 'MB', 'CKM', 'RAD23B',
              'CKM', 'CKM', 'H2BC12', 'TTN', 'TTN', 'TTN', 'TTN', 'MYH1', 'MYH8',
              'TTN', 'TTN', 'MYH2']
gene_fc = [-8.64, -7.91, -7.88, -8.77, -8.64, -7.35, -7.78, -8.18, -8.44, -7.95,
           9.54, 9.67, 11.26, 12.48, 9.6, 9.74, 10.13, 9.44, 9.31, 9.64]
gene_p = [4.37, 3.85, 3.69, 3.19, 3.0, 2.98, 2.43, 1.91, 1.79, 1.81,
          4.32, 4.47, 4.47, 4.47, 4.23, 4.28, 4.2, 4.04, 3.66, 3.28]
text_fc = [-9.77, -8.89, -6.77, -9.88, -9.67, -7.52, -6.75, -9.32, -9.54, -6.92,
           6.49, 8.74, 11.56, 13.44, 8.54, 11.29, 10.6, 8.34, 8.58, 10.77]
text_p = [4.58, 4.05, 3.48, 3.41, 2.79, 3.05, 2.63, 2.13, 1.58, 1.58,
          4.67, 4.68, 4.68, 4.26, 4.26, 4.23, 3.81, 3.83, 3.42, 3.07]
draw_segment = [True, True, True, True, True, False, True, True, True, True,
                True, True, False, True, True, True, True, True, True, True]

fc_cut = 1
p_cut = 1.3

fig = plt.figure(figsize=(8.75, 5.44), dpi=100)
ax = fig.add_axes([50 / 875, 44 / 544, 825 / 875, 487 / 544])

ns = np.array(ns_pts)
down = np.array(down_pts)
up = np.array(up_pts)
gx = np.array(gene_fc)
gy = np.array(gene_p)

kw = dict(s=28, facecolors='none', linewidths=1.15)
ax.scatter(ns[:, 0], ns[:, 1], edgecolors='#333333', **kw)
ax.scatter(down[:, 0], down[:, 1], edgecolors='#8B0000', **kw)
ax.scatter(gx[gx < 0], gy[gx < 0], edgecolors='#8B0000', **kw)
ax.scatter(up[:, 0], up[:, 1], edgecolors='#228B22', **kw)
ax.scatter(gx[gx > 0], gy[gx > 0], edgecolors='#228B22', **kw)

line_kw = dict(color='#BEBEBE', lw=1.2, ls=(0, (4, 4)), zorder=0)
ax.axvline(-fc_cut, **line_kw)
ax.axvline(fc_cut, **line_kw)
ax.axhline(p_cut, **line_kw)

for i, name in enumerate(gene_names):
    arrow = dict(arrowstyle='-', color='black', lw=1.0, shrinkA=1, shrinkB=3) if draw_segment[i] else None
    ax.annotate(name, xy=(gene_fc[i], gene_p[i]), xytext=(text_fc[i], text_p[i]),
                ha='center', va='center', fontsize=10, color='black',
                arrowprops=arrow)

ax.set_xlim(-11.3, 15.95)
ax.set_ylim(-0.25, 5.25)
ax.set_xticks([-10, -5, 0, 5, 10, 15])
ax.set_yticks([0, 1, 2, 3, 4, 5])
ax.tick_params(labelsize=10.5, labelcolor='#4D4D4D', color='#333333', length=3.5, width=0.8)
ax.spines['top'].set_visible(False)
ax.spines['right'].set_visible(False)
ax.spines['left'].set_linewidth(1.1)
ax.spines['bottom'].set_linewidth(1.1)
ax.set_xlabel('Log2FC (Insoluble/Soluble)', fontsize=13.5, labelpad=-1)
ax.set_ylabel('-log10(adj p-value)', fontsize=13.5, labelpad=-1)

fig.savefig('out.png', dpi=100)
